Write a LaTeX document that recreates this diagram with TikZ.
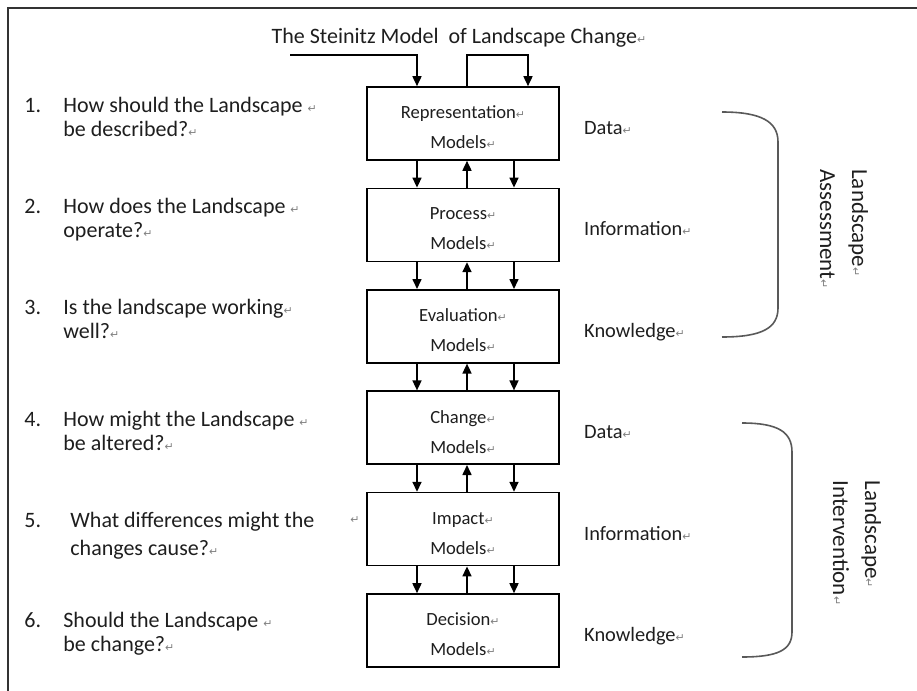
\documentclass[tikz,border=0pt]{standalone}
\usepackage{fontspec}
\setmainfont{Carlito}
\newfontfamily\retfont{DejaVu Sans}
\usetikzlibrary{arrows.meta,positioning}
\definecolor{retgray}{gray}{0.5}
\definecolor{ink}{HTML}{1E1E1E}
\newcommand{\ret}{{\retfont\fontsize{5.5}{6}\selectfont\textcolor{retgray}{↵}}}
\newcommand{\lowered}[1]{\raisebox{-2pt}[\height][\depth]{#1}}
\begin{document}
\begin{tikzpicture}[x=0.5pt, y=-0.5pt, >={Triangle[width=4.5pt,length=5pt]},
	modelbox/.style={draw, line width=0.8pt, minimum width=96pt, minimum height=36.5pt, inner sep=0pt, align=center, text=ink, font=\fontsize{9.3}{15}\selectfont},
	flow/.style={line width=0.8pt,->},
	qtext/.style={anchor=base west, inner sep=0pt, text=ink, font=\fontsize{11}{13}\selectfont},
	level/.style={anchor=base west, inner sep=0pt, text=ink, font=\fontsize{10.2}{12}\selectfont},
	side/.style={rotate=-90, align=left, inner sep=0pt, text=ink, font=\fontsize{11.5}{16}\selectfont},
	brace/.style={draw=black!65, line width=0.8pt}]
	
	\useasboundingbox (0,0) rectangle (917,691);
	
	% Frame of the page
	\draw[line width=1pt, black!80] (917,8) -- (8,8) -- (8,691);
	
	% Title
	\node[anchor=base, inner sep=0pt, text=ink, font=\fontsize{11}{13}\selectfont] (title) at (459,43) {The Steinitz Model\ \ of Landscape Change\ret};
	
	% The six model boxes
	\foreach \i/\first in {1/Representation, 2/Process, 3/Evaluation, 4/Change, 5/Impact, 6/Decision}{
		\node[modelbox] (m\i) at (463,{123.5+101.4*(\i-1)}) {\lowered{\first\ret}\\\lowered{Models\ret}};
	}
	
	% Arrows between the boxes
	\foreach \i in {1,...,5}{
		\pgfmathtruncatemacro{\j}{\i+1}
		\draw[flow] ([xshift=-23pt]m\i.south) -- ([xshift=-23pt]m\j.north);
		\draw[flow] ([xshift=2pt]m\j.north) -- ([xshift=2pt]m\i.south);
		\draw[flow] ([xshift=25.5pt]m\i.south) -- ([xshift=25.5pt]m\j.north);
	}
	
	% Input and feedback loop at the top
	\coordinate (feed) at (290,55);
	\coordinate (loop) at (497,55);
	\draw[flow] (feed) -| ([xshift=-23pt]m1.north);
	\draw[flow] ([xshift=2pt]m1.north) |- (loop) -| ([xshift=32.5pt]m1.north);
	
	% Levels on the right of the boxes
	\foreach \i/\word in {1/Data, 2/Information, 3/Knowledge, 4/Data, 5/Information, 6/Knowledge}{
		\node[level] (lv\i) at ([xshift=12pt,yshift=-5.5pt]m\i.east) {\word\ret};
	}
	
	% Questions on the left
	\foreach \n/\x/\ya/\yb/\la/\lb in {
		1/63/112/136/How should the Landscape \ret/be described?\ret,
		2/63/213/237/How does the Landscape \ret/operate?\ret,
		3/63/314/338/Is the landscape working\ret/well?\ret,
		4/63/426/450/How might the Landscape \ret/be altered?\ret,
		5/70/527/555/What differences might the/changes cause?\ret,
		6/63/627/651/Should the Landscape \ret/be change?\ret}{
		\node[qtext] (qn\n) at (24,\ya) {\n.};
		\node[qtext] (qa\n) at (\x,\ya) {\la};
		\node[qtext] (qb\n) at (\x,\yb) {\lb};
	}
	\node[inner sep=0pt] (stray) at (355,520) {\ret};
	
	% Brackets and their labels
	\draw[brace] (722,112) .. controls (762,112) and (778,122) .. (778,142) -- (778,308) .. controls (778,328) and (762,337) .. (722,337);
	\node[side] (assess) at (844,229) {Landscape\ret\\Assessment\ret};
	\draw[brace] (742,423) .. controls (778,423) and (792,432) .. (792,452) -- (792,632) .. controls (792,650) and (778,657) .. (742,657);
	\node[side] (interv) at (857,543) {Landscape\ret\\Intervention\ret};
	
\end{tikzpicture}
\end{document}
